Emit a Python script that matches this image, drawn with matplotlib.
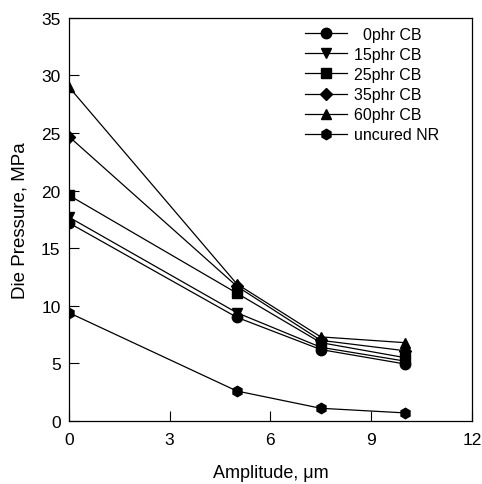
import numpy as np
import matplotlib.pyplot as plt

plt.rcParams['font.family'] = ['Liberation Sans', 'DejaVu Sans']

amplitude = [0, 5, 7.5, 10]
labels = ['  0phr CB', '15phr CB', '25phr CB', '35phr CB', '60phr CB', 'uncured NR']
markers = ['o', 'v', 's', 'D', '^', 'h']
pressure = [
    [17.2, 9.0, 6.2, 4.95],
    [17.7, 9.4, 6.4, 5.2],
    [19.6, 11.1, 6.8, 5.5],
    [24.7, 11.7, 7.0, 6.1],
    [29.0, 11.9, 7.3, 6.8],
    [9.4, 2.6, 1.1, 0.7],
]

fig = plt.figure(figsize=(4.82, 4.85), dpi=100)
ax = fig.add_axes([0.143, 0.130, 0.836, 0.831])

for lab, m, p in zip(labels, markers, pressure):
    ms = 6.5 if m == 'D' else 7.5
    ax.plot(amplitude, p, color='black', lw=0.9, marker=m, ms=ms, label=lab)

ax.set_xlim(0, 12)
ax.set_ylim(0, 35)
ax.set_xticks([0, 3, 6, 9, 12])
ax.set_yticks(np.arange(0, 36, 5))
ax.tick_params(direction='in', length=7, width=0.8, labelsize=12.5,
               top=False, right=False)
ax.tick_params(axis='x', pad=8)
ax.tick_params(axis='y', pad=6)
ax.set_xlabel('Amplitude, \u03bcm', fontsize=13, labelpad=12)
ax.set_ylabel('Die Pressure, MPa', fontsize=13.5, labelpad=9)
for s in ax.spines.values():
    s.set_linewidth(0.9)

leg = ax.legend(loc='upper left', frameon=False, fontsize=11.5,
                bbox_to_anchor=(0.586, 0.978), borderaxespad=0, borderpad=0,
                handlelength=2.6, handletextpad=0.45, labelspacing=0.32)

fig.savefig('out.png', dpi=100)
